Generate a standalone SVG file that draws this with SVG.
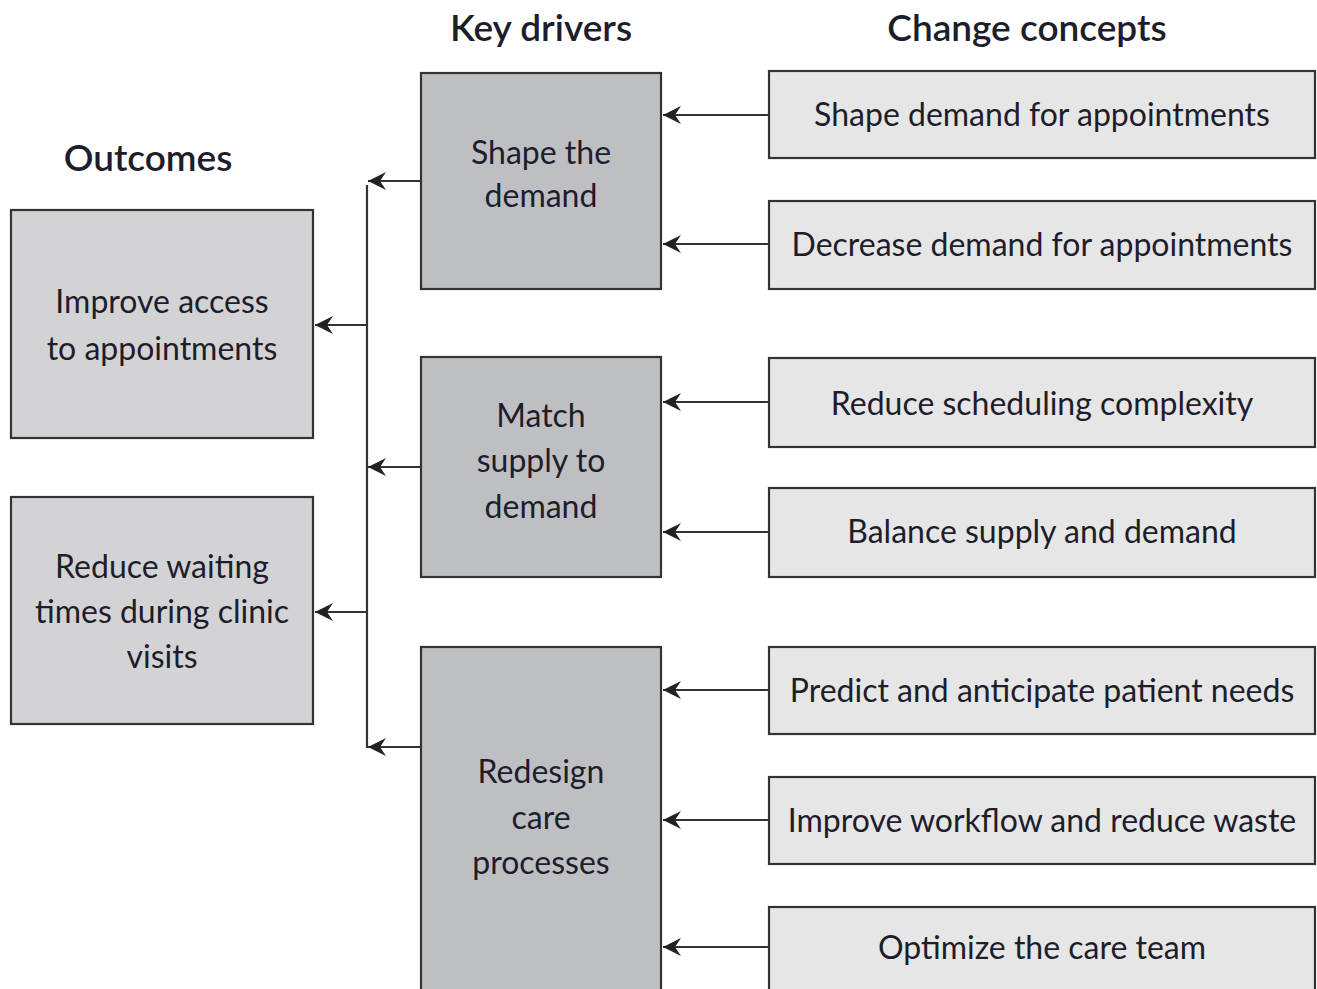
<svg xmlns="http://www.w3.org/2000/svg" width="1317" height="989" viewBox="0 0 1317 989">
<style>
.t{font-family:Lato,"Liberation Sans",sans-serif;font-size:32px;fill:#1d1d2b;text-anchor:middle}
.h{font-family:Lato,"Liberation Sans",sans-serif;font-size:37px;font-weight:600;fill:#1d1d2b;text-anchor:middle}
.o{fill:#d3d3d5;stroke:#333;stroke-width:2.2}
.k{fill:#bebfc3;stroke:#333;stroke-width:2.2}
.c{fill:#e6e6e6;stroke:#333;stroke-width:2.2}
.ln{fill:none;stroke:#333;stroke-width:2.2}
</style>
<defs>
<marker id="ah" viewBox="0 0 18 18" refX="18" refY="9" markerWidth="18" markerHeight="18" markerUnits="userSpaceOnUse" orient="auto">
<path d="M0,0 L18,9 L0,18 L6,9 z" fill="#222"/>
</marker>
</defs>
<rect width="1317" height="989" fill="#fff"/>
<g id="headers">
<text class="h" x="148" y="171">Outcomes</text>
<text class="h" x="541" y="41">Key drivers</text>
<text class="h" x="1027" y="41">Change concepts</text>
</g>
<g id="connectors">
<line class="ln" x1="769" y1="115" x2="663" y2="115" marker-end="url(#ah)"/>
<line class="ln" x1="769" y1="244" x2="663" y2="244" marker-end="url(#ah)"/>
<line class="ln" x1="769" y1="402" x2="663" y2="402" marker-end="url(#ah)"/>
<line class="ln" x1="769" y1="532" x2="663" y2="532" marker-end="url(#ah)"/>
<line class="ln" x1="769" y1="690" x2="663" y2="690" marker-end="url(#ah)"/>
<line class="ln" x1="769" y1="820" x2="663" y2="820" marker-end="url(#ah)"/>
<line class="ln" x1="769" y1="947" x2="663" y2="947" marker-end="url(#ah)"/>
<line class="ln" x1="421" y1="181" x2="368" y2="181" marker-end="url(#ah)"/>
<line class="ln" x1="421" y1="467" x2="368" y2="467" marker-end="url(#ah)"/>
<line class="ln" x1="421" y1="747" x2="368" y2="747" marker-end="url(#ah)"/>
<line class="ln" x1="367" y1="185" x2="367" y2="748"/>
<line class="ln" x1="367" y1="325" x2="315" y2="325" marker-end="url(#ah)"/>
<line class="ln" x1="367" y1="612" x2="315" y2="612" marker-end="url(#ah)"/>
</g>
<g id="outcome-access">
<rect class="o" x="11" y="210" width="302" height="228"/>
<text class="t" x="162" y="313">Improve access</text>
<text class="t" x="162" y="360">to appointments</text>
</g>
<g id="outcome-waiting">
<rect class="o" x="11" y="497" width="302" height="227"/>
<text class="t" x="162" y="578">Reduce waiting</text>
<text class="t" x="162" y="623">times during clinic</text>
<text class="t" x="162" y="668">visits</text>
</g>
<g id="driver-shape">
<rect class="k" x="421" y="73" width="240" height="216"/>
<text class="t" x="541" y="164">Shape the</text>
<text class="t" x="541" y="207">demand</text>
</g>
<g id="driver-match">
<rect class="k" x="421" y="357" width="240" height="220"/>
<text class="t" x="541" y="427">Match</text>
<text class="t" x="541" y="472">supply to</text>
<text class="t" x="541" y="518">demand</text>
</g>
<g id="driver-redesign">
<rect class="k" x="421" y="647" width="240" height="350"/>
<text class="t" x="541" y="783">Redesign</text>
<text class="t" x="541" y="829">care</text>
<text class="t" x="541" y="874">processes</text>
</g>
<g id="cc1"><rect class="c" x="769" y="71" width="546" height="87"/><text class="t" x="1042" y="126">Shape demand for appointments</text></g>
<g id="cc2"><rect class="c" x="769" y="201" width="546" height="88"/><text class="t" x="1042" y="256">Decrease demand for appointments</text></g>
<g id="cc3"><rect class="c" x="769" y="358" width="546" height="89"/><text class="t" x="1042" y="415">Reduce scheduling complexity</text></g>
<g id="cc4"><rect class="c" x="769" y="488" width="546" height="89"/><text class="t" x="1042" y="543">Balance supply and demand</text></g>
<g id="cc5"><rect class="c" x="769" y="647" width="546" height="87"/><text class="t" x="1042" y="702">Predict and anticipate patient needs</text></g>
<g id="cc6"><rect class="c" x="769" y="777" width="546" height="87"/><text class="t" x="1042" y="832">Improve workflow and reduce waste</text></g>
<g id="cc7"><rect class="c" x="769" y="907" width="546" height="90"/><text class="t" x="1042" y="959">Optimize the care team</text></g>
</svg>
